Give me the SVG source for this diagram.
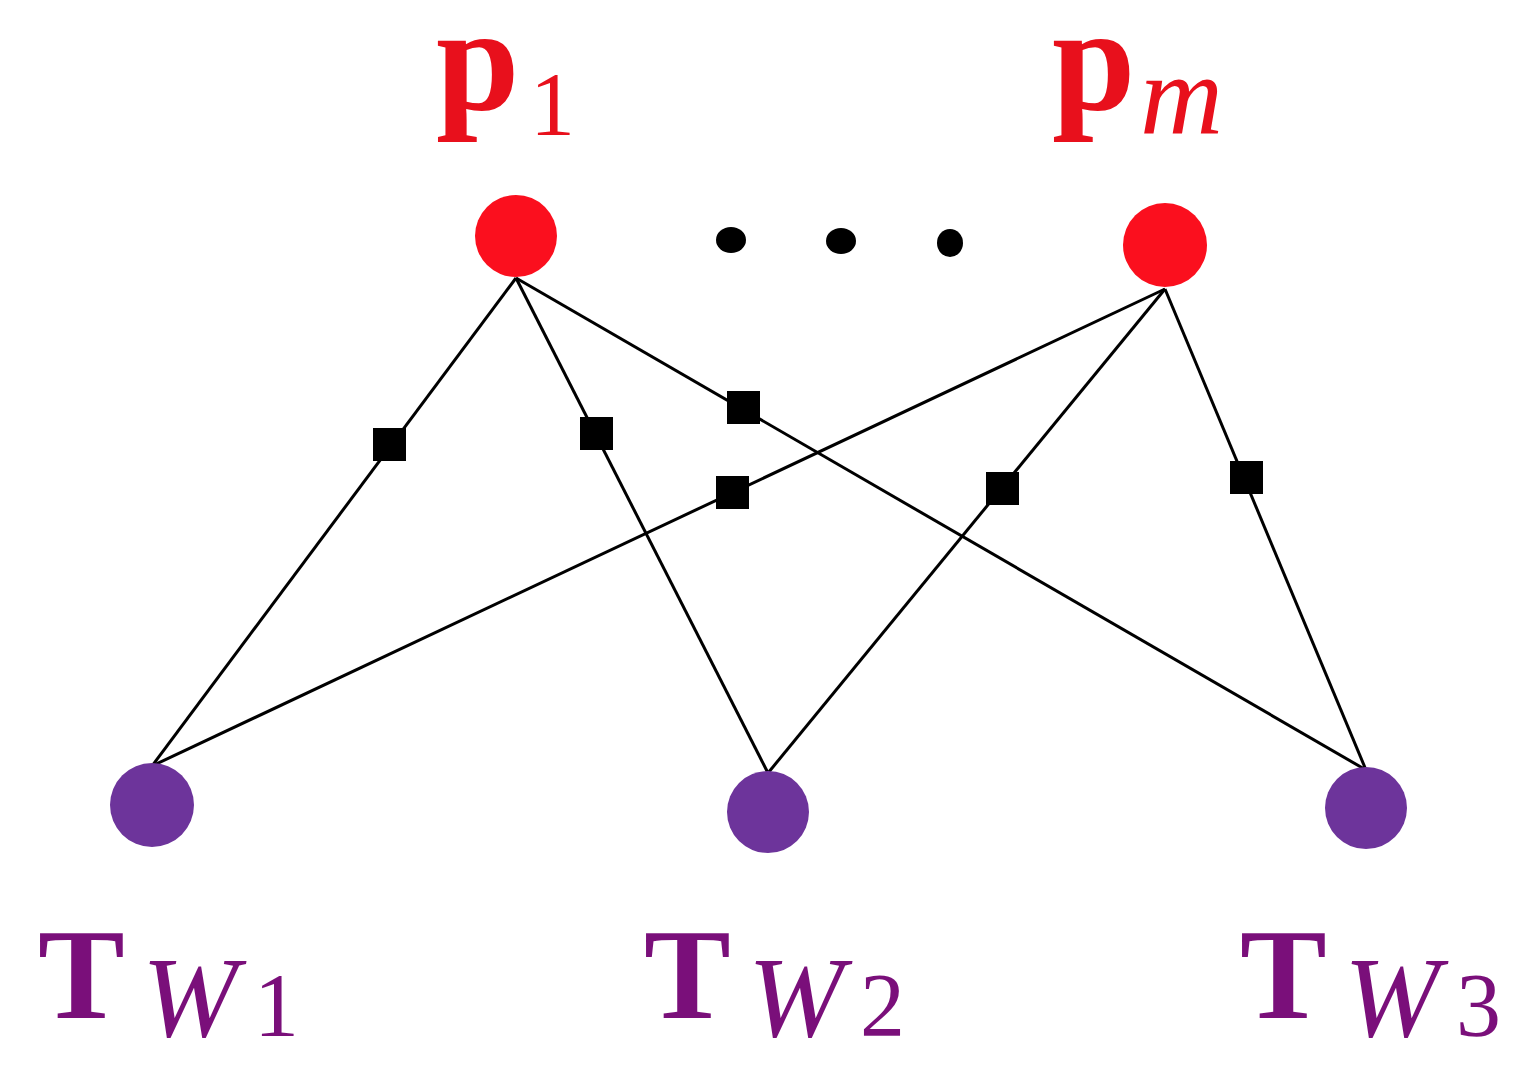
<svg xmlns="http://www.w3.org/2000/svg" width="1528" height="1076" viewBox="0 0 1528 1076">
<style>
.e{stroke:#000;stroke-width:3;fill:none}
.sq{fill:#000}
.r{fill:#fb0f1e}
.v{fill:#6d349b}
.lr{fill:#e8101c;font-family:"Liberation Serif",serif}
.lv{fill:#7a0f7a;font-family:"Liberation Serif",serif}
.b{font-weight:bold;font-size:150px}
.bt{font-weight:bold;font-size:130px}
.s{font-size:90px}
.i{font-style:italic;font-size:115px}
</style>
<rect width="1528" height="1076" fill="#fff"/>
<g id="connectors">
<line class="e" x1="516" y1="278" x2="152" y2="766"/>
<line class="e" x1="516" y1="278" x2="768" y2="773"/>
<line class="e" x1="516" y1="278" x2="1366" y2="770"/>
<line class="e" x1="1165" y1="289" x2="152" y2="766"/>
<line class="e" x1="1165" y1="289" x2="768" y2="773"/>
<line class="e" x1="1165" y1="289" x2="1366" y2="770"/>
<rect class="sq" x="373" y="428" width="33" height="33"/>
<rect class="sq" x="580" y="417" width="33" height="33"/>
<rect class="sq" x="727" y="391" width="33" height="33"/>
<rect class="sq" x="716" y="476" width="33" height="33"/>
<rect class="sq" x="986" y="472" width="33" height="33"/>
<rect class="sq" x="1230" y="461" width="33" height="33"/>
</g>
<g id="p1"><circle class="r" cx="516" cy="236" r="41"/>
<text class="lr"><tspan class="b" x="436" y="110">p</tspan><tspan class="s" x="530" y="135">1</tspan></text></g>
<g id="pm"><circle class="r" cx="1165" cy="245" r="42"/>
<text class="lr"><tspan class="b" x="1052" y="110">p</tspan><tspan class="i" x="1140" y="133">m</tspan></text></g>
<g id="dots"><ellipse cx="731" cy="240" rx="15" ry="13"/><ellipse cx="841" cy="241" rx="15" ry="13"/><ellipse cx="950" cy="243" rx="13" ry="14"/></g>
<g id="Tw1"><circle class="v" cx="152" cy="805" r="42"/>
<text class="lv"><tspan class="bt" x="38" y="1018">T</tspan><tspan class="i" x="142" y="1036">W</tspan><tspan class="s" x="254" y="1036">1</tspan></text></g>
<g id="Tw2"><circle class="v" cx="768" cy="812" r="41"/>
<text class="lv"><tspan class="bt" x="644" y="1018">T</tspan><tspan class="i" x="748" y="1036">W</tspan><tspan class="s" x="860" y="1036">2</tspan></text></g>
<g id="Tw3"><circle class="v" cx="1366" cy="808" r="41"/>
<text class="lv"><tspan class="bt" x="1240" y="1018">T</tspan><tspan class="i" x="1344" y="1036">W</tspan><tspan class="s" x="1456" y="1036">3</tspan></text></g>
</svg>
